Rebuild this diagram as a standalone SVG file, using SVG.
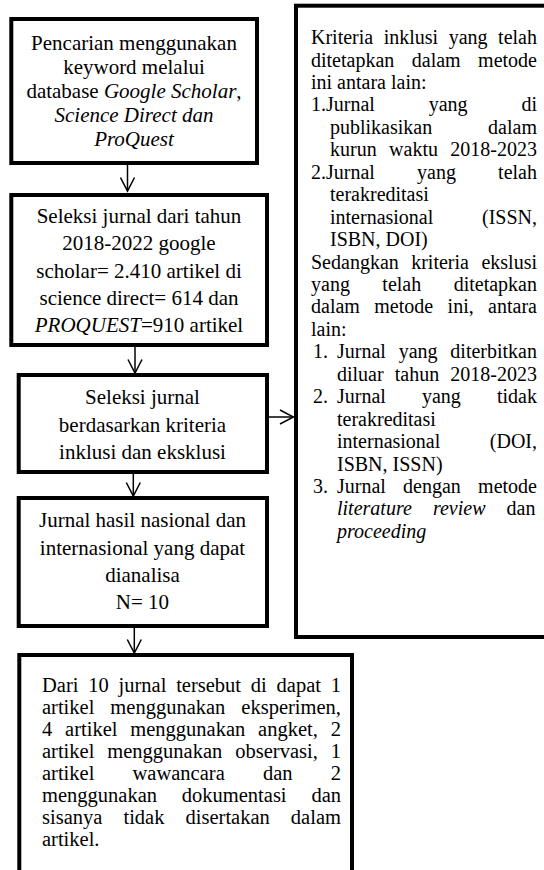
<svg xmlns="http://www.w3.org/2000/svg" width="544" height="870" viewBox="0 0 544 870">
<style>
.box{fill:none;stroke:#000;stroke-width:4}
.t{font-family:"Liberation Serif","Times New Roman",serif;font-size:21px;fill:#000}
.c{text-anchor:middle}
.s5{font-size:20.5px}
.r{font-size:20px}
.i{font-style:italic}
.conn{stroke:#000;stroke-width:1.5;fill:none;marker-end:url(#ah)}
</style>
<defs>
<marker id="ah" viewBox="0 0 16 16" refX="14.5" refY="8" markerWidth="16" markerHeight="16" markerUnits="userSpaceOnUse" orient="auto">
<path d="M1,1 L14.5,8 L1,15" fill="none" stroke="#000" stroke-width="1.5"/>
</marker>
</defs>
<rect width="544" height="870" fill="#fff"/>
<g id="connectors">
<line class="conn" x1="127.5" y1="165" x2="127.5" y2="191"/>
<line class="conn" x1="135" y1="347" x2="135" y2="373"/>
<line class="conn" x1="133.3" y1="474" x2="133.3" y2="496"/>
<line class="conn" x1="134.3" y1="628" x2="134.3" y2="653"/>
<line class="conn" x1="268.7" y1="417" x2="293.5" y2="417"/>
</g>
<g id="node-search">
<rect class="box" x="11.3" y="19" width="245.7" height="144"/>
<text class="t c" x="134" y="50">Pencarian menggunakan</text>
<text class="t c" x="134" y="74">keyword melalui</text>
<text class="t c" x="134" y="98">database <tspan class="i">Google Scholar</tspan>,</text>
<text class="t c i" x="134" y="122">Science Direct dan</text>
<text class="t c i" x="134" y="146">ProQuest</text>
</g>
<g id="node-selection-year">
<rect class="box" x="11.3" y="195" width="255.7" height="150"/>
<text class="t c" x="139" y="223">Seleksi jurnal dari tahun</text>
<text class="t c" x="139" y="250">2018-2022 google</text>
<text class="t c" x="139" y="278">scholar= 2.410 artikel di</text>
<text class="t c" x="139" y="305">science direct= 614 dan</text>
<text class="t c" x="139" y="332"><tspan class="i">PROQUEST</tspan>=910 artikel</text>
</g>
<g id="node-selection-criteria">
<rect class="box" x="18.7" y="375" width="248.3" height="97"/>
<text class="t c" x="142.5" y="404">Seleksi jurnal</text>
<text class="t c" x="142.5" y="432">berdasarkan kriteria</text>
<text class="t c" x="142.5" y="459">inklusi dan eksklusi</text>
</g>
<g id="node-result">
<rect class="box" x="18.7" y="498" width="248.3" height="128"/>
<text class="t c" x="142.5" y="527">Jurnal hasil nasional dan</text>
<text class="t c" x="142.5" y="555">internasional yang dapat</text>
<text class="t c" x="142.5" y="582">dianalisa</text>
<text class="t c" x="142.5" y="609">N= 10</text>
</g>
<g id="node-summary">
<rect class="box" x="19.3" y="655" width="332.7" height="240"/>
<text class="t s5" x="42" y="692" word-spacing="4.67">Dari 10 jurnal tersebut di dapat 1</text>
<text class="t s5" x="42" y="714" word-spacing="10.87">artikel menggunakan eksperimen,</text>
<text class="t s5" x="42" y="736" word-spacing="7.71">4 artikel menggunakan angket, 2</text>
<text class="t s5" x="42" y="758" word-spacing="7.81">artikel menggunakan observasi, 1</text>
<text class="t s5" x="42" y="780" word-spacing="33.07">artikel wawancara dan 2</text>
<text class="t s5" x="42" y="802" word-spacing="19.69">menggunakan dokumentasi dan</text>
<text class="t s5" x="42" y="824" word-spacing="15.97">sisanya tidak disertakan dalam</text>
<text class="t s5" x="42" y="846">artikel.</text>
</g>
<g id="node-criteria">
<rect class="box" x="296" y="5.7" width="270" height="631.3"/>
<text class="t r" x="311" y="44" word-spacing="5.53">Kriteria inklusi yang telah</text>
<text class="t r" x="311" y="66.5" word-spacing="12.46">ditetapkan dalam metode</text>
<text class="t r" x="311" y="88.9">ini antara lain:</text>
<text class="t r" x="311" y="111.35" word-spacing="48.84">1.Jurnal yang di</text>
<text class="t r" x="330" y="133.8" word-spacing="50.9">publikasikan dalam</text>
<text class="t r" x="330" y="156.25" word-spacing="7.4">kurun waktu 2018-2023</text>
<text class="t r" x="311" y="178.7" word-spacing="37.18">2.Jurnal yang telah</text>
<text class="t r" x="330" y="201.15">terakreditasi</text>
<text class="t r" x="330" y="223.6" word-spacing="43.68">internasional (ISSN,</text>
<text class="t r" x="330" y="246.05">ISBN, DOI)</text>
<text class="t r" x="311" y="268.5" word-spacing="7.46">Sedangkan kriteria ekslusi</text>
<text class="t r" x="311" y="290.95" word-spacing="27.46">yang telah ditetapkan</text>
<text class="t r" x="311" y="313.4" word-spacing="9.42">dalam metode ini, antara</text>
<text class="t r" x="311" y="335.85">lain:</text>
<text class="t r" x="313" y="358.3">1.</text>
<text class="t r" x="337" y="358.3" word-spacing="7.79">Jurnal yang diterbitkan</text>
<text class="t r" x="337" y="380.75" word-spacing="6.12">diluar tahun 2018-2023</text>
<text class="t r" x="313" y="403.2">2.</text>
<text class="t r" x="337" y="403.2" word-spacing="31.12">Jurnal yang tidak</text>
<text class="t r" x="337" y="425.65">terakreditasi</text>
<text class="t r" x="337" y="448.1" word-spacing="44.48">internasional (DOI,</text>
<text class="t r" x="337" y="470.55">ISBN, ISSN)</text>
<text class="t r" x="313" y="493">3.</text>
<text class="t r" x="337" y="493" word-spacing="12.24">Jurnal dengan metode</text>
<text class="t r" x="337" y="515.45" word-spacing="16.12"><tspan class="i">literature review</tspan> dan</text>
<text class="t r i" x="337" y="537.9">proceeding</text>
</g>
</svg>
